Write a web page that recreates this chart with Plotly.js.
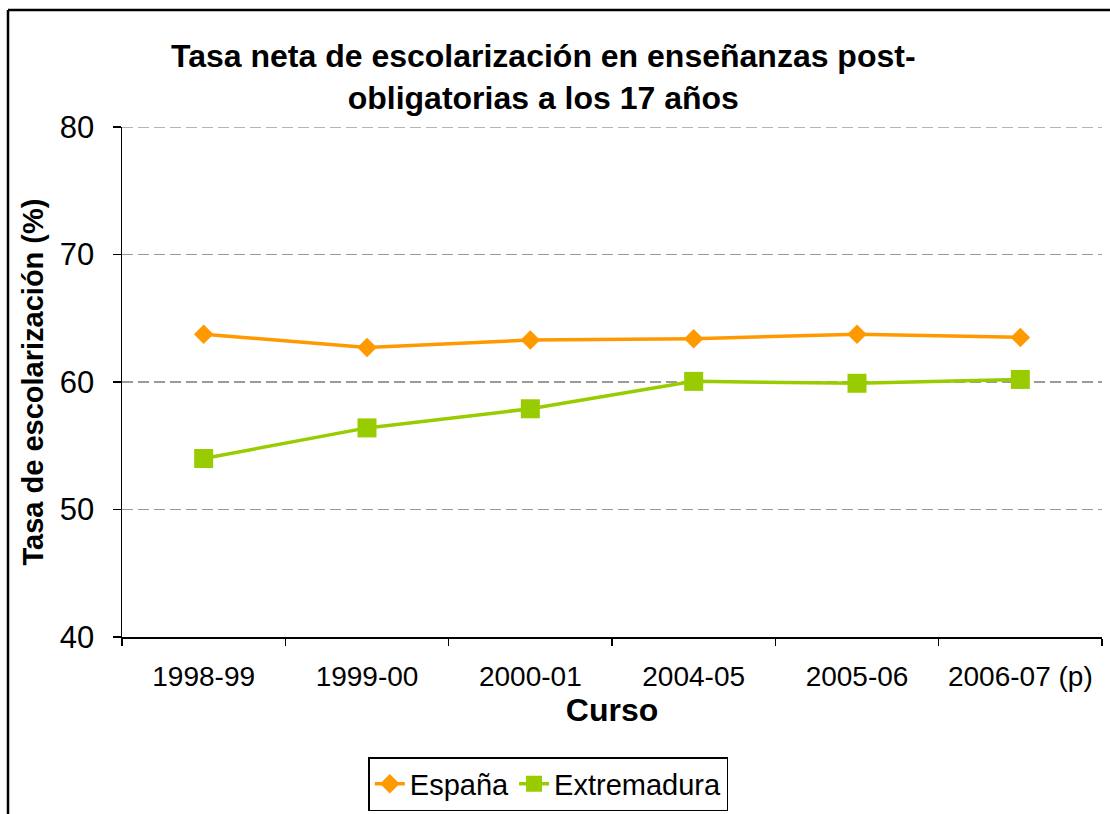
<!DOCTYPE html>
<html>
<head>
<meta charset="utf-8">
<script src="https://cdn.plot.ly/plotly-3.0.1.min.js"></script>
<style>html,body{margin:0;padding:0;background:#fff;}#chart{width:1110px;height:814px;}</style>
</head>
<body>
<div id="chart"></div>
<script>
const categories = ["1998-99", "1999-00", "2000-01", "2004-05", "2005-06", "2006-07 (p)"];
const espana = [63.75, 62.7, 63.3, 63.4, 63.75, 63.5];
const extremadura = [54.0, 56.4, 57.9, 60.05, 59.9, 60.2];
const yTicks = [40, 50, 60, 70, 80];

const font = "Liberation Sans, Arial, sans-serif";
const yMax = yTicks[yTicks.length - 1];

const traces = [
  {
    x: categories, y: espana, name: "España", type: "scatter", mode: "lines+markers",
    line: {color: "#FF9900", width: 3.5},
    marker: {symbol: "diamond", size: 15, color: "#FF9900"}
  },
  {
    x: categories, y: extremadura, name: "Extremadura", type: "scatter", mode: "lines+markers",
    line: {color: "#99CC00", width: 3.5},
    marker: {symbol: "square", size: 19, color: "#99CC00"}
  }
];

const layout = {
  width: 1110, height: 814,
  margin: {l: 122, r: 8, t: 127, b: 177},
  paper_bgcolor: "#fff", plot_bgcolor: "#fff",
  font: {family: font, color: "#000"},
  showlegend: true,
  annotations: [{
    text: "<b>Tasa neta de escolarización en enseñanzas post-<br>obligatorias a los 17 años</b>",
    font: {family: font, size: 32, color: "#000"},
    xref: "paper", yref: "paper",
    x: (543.5 - 122) / 980, xanchor: "center",
    y: (637 - 77.5) / 510, yanchor: "middle",
    showarrow: false, align: "center"
  }],
  xaxis: {
    type: "category",
    range: [-0.5, 5.5],
    tickson: "boundaries",
    ticks: "outside", ticklen: 7, tickcolor: "#000", tickwidth: 1.5,
    showline: true, linecolor: "#000", linewidth: 1.5,
    showgrid: false, zeroline: false,
    tickfont: {family: font, size: 28, color: "#000"},
    ticklabelstandoff: 14,
    title: {text: "<b>Curso</b>", font: {family: font, size: 32, color: "#000"}, standoff: 5},
    fixedrange: true
  },
  yaxis: {
    range: [40, yMax],
    tickvals: yTicks,
    ticktext: yTicks.map(String),
    ticks: "outside", ticklen: 8, tickcolor: "#000", tickwidth: 1.5,
    showline: true, linecolor: "#000", linewidth: 1.5,
    showgrid: true, gridcolor: "#9a9a9a", gridwidth: 1.5, griddash: "11px,5px",
    zeroline: false,
    tickfont: {family: font, size: 31, color: "#000"},
    ticklabelstandoff: 12,
    title: {text: "<b>Tasa de escolarización (%)</b>", font: {family: font, size: 29, color: "#000"}, standoff: 7},
    fixedrange: true
  },
  legend: {
    orientation: "h",
    xref: "container", yref: "container",
    x: 0.494, xanchor: "center",
    y: 1 - 757/814, yanchor: "top",
    bordercolor: "#000", borderwidth: 1.5,
    font: {family: font, size: 29, color: "#000"},
    itemwidth: 30, tracegroupgap: 0
  },
  shapes: [
    {type: "line", xref: "paper", yref: "y", layer: "below",
     x0: 0, x1: 1, y0: yMax, y1: yMax,
     line: {color: "#9a9a9a", width: 1.5, dash: "11px,5px"}},
    {type: "line", xref: "paper", yref: "paper",
     x0: (8 - 122) / 980, x1: (1115 - 122) / 980, y0: (637 - 10) / 510, y1: (637 - 10) / 510,
     line: {color: "#000", width: 2.5}},
    {type: "line", xref: "paper", yref: "paper",
     x0: (8 - 122) / 980, x1: (8 - 122) / 980, y0: (637 - 10) / 510, y1: (637 - 830) / 510,
     line: {color: "#000", width: 2.5}}
  ]
};

Plotly.newPlot("chart", traces, layout, {displayModeBar: false, staticPlot: true});
</script>
</body>
</html>
